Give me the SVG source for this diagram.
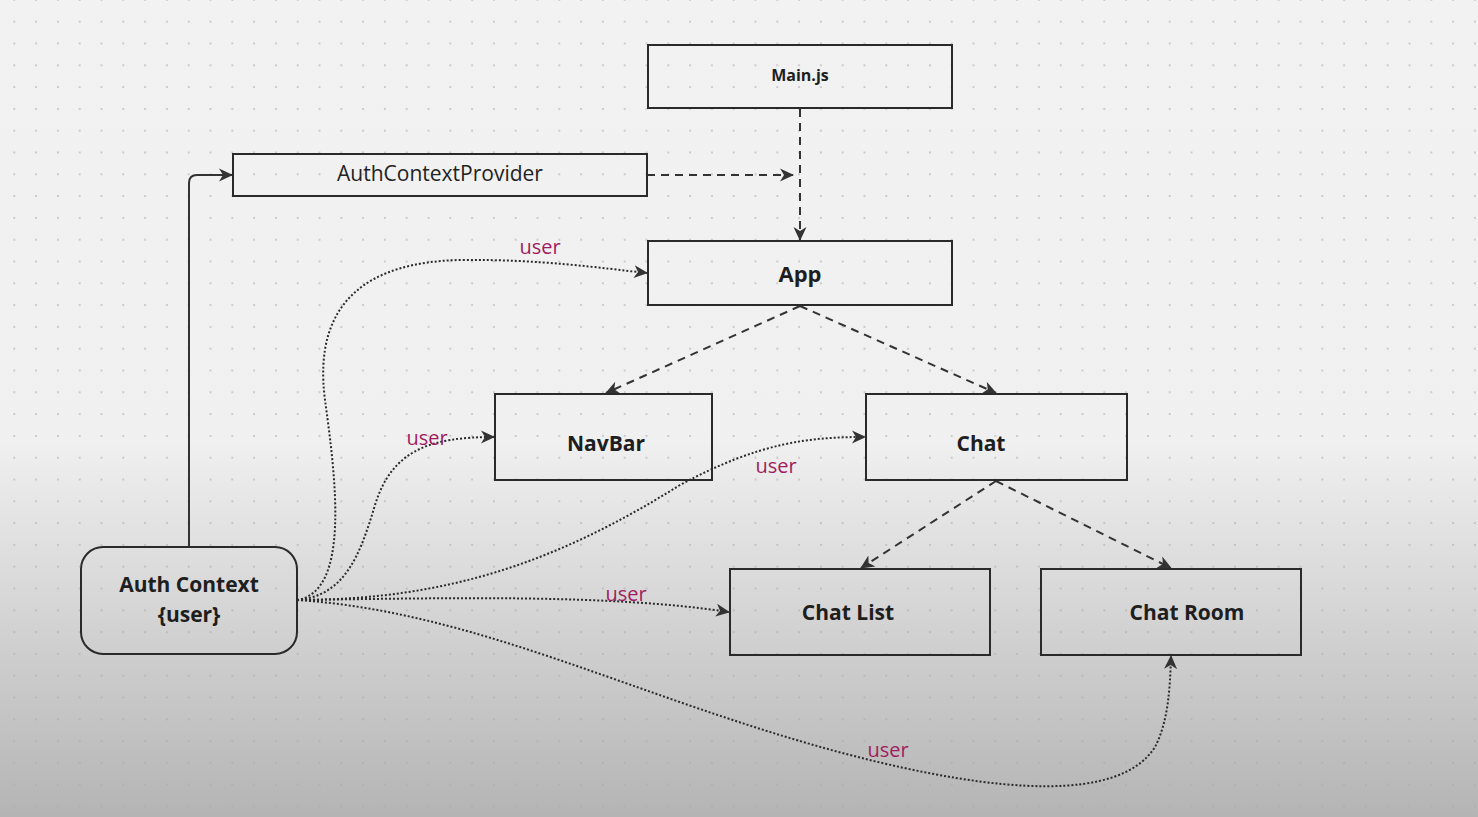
<svg xmlns="http://www.w3.org/2000/svg" width="1478" height="817" viewBox="0 0 1478 817">
<defs>
<linearGradient id="bg" x1="0" y1="0" x2="0" y2="1">
<stop offset="0" stop-color="#f2f2f2"/>
<stop offset="0.54" stop-color="#f0f0f0"/>
<stop offset="1" stop-color="#b4b4b4"/>
</linearGradient>
<pattern id="dots" x="3.4" y="10.8" width="21.8" height="21.8" patternUnits="userSpaceOnUse">
<circle cx="10.9" cy="10.9" r="1" fill="#a8a8a8" fill-opacity="0.7"/>
</pattern>
<marker id="ah" viewBox="0 0 14 14" refX="13" refY="7" markerWidth="14" markerHeight="14" markerUnits="userSpaceOnUse" orient="auto">
<path d="M0,0.5 L14,7 L0,13.5 L4,7 z" fill="#333"/>
</marker>
<style>
.box{fill:none;stroke:#2a2a2a;stroke-width:2}
.lbl{font-family:"Open Sans","Noto Sans","Liberation Sans",sans-serif;font-weight:bold;fill:#1e1e1e;text-anchor:middle}
.usr{font-family:"Open Sans","Noto Sans","Liberation Sans",sans-serif;font-size:20px;fill:#a01c5e;text-anchor:middle}
.solid{fill:none;stroke:#333;stroke-width:2;marker-end:url(#ah)}
.dash{fill:none;stroke:#333;stroke-width:2;stroke-dasharray:8 6;marker-end:url(#ah)}
.dot{fill:none;stroke:#2a2a2a;stroke-width:2;stroke-dasharray:2 2;marker-end:url(#ah)}
</style>
</defs>
<rect width="1478" height="817" fill="url(#bg)"/>
<rect width="1478" height="817" fill="url(#dots)"/>

<g id="connectors">
<path class="solid" d="M189,547 V183 Q189,175 197,175 H232"/>
<path class="dash" d="M647,175 H793"/>
<path class="dash" d="M800,109 V240"/>
<path class="dash" d="M800,306 L606,393"/>
<path class="dash" d="M800,306 L996,393"/>
<path class="dash" d="M996,481 L861,568"/>
<path class="dash" d="M996,481 L1171,568"/>
<path class="dot" d="M297,600 C350,592 336,480 325,400 C312,300 370,262 460,260 C540,259 600,268 647,273"/>
<path class="dot" d="M297,600 C345,596 360,555 375,505 C392,450 430,437 494,437"/>
<path class="dot" d="M297,600 C450,600 560,560 680,485 C760,442 810,437 865,437"/>
<path class="dot" d="M297,600 C450,598 610,594 729,612"/>
<path class="dot" d="M297,600 C480,612 640,700 850,755 C1000,794 1120,802 1155,747 C1168,722 1170,690 1171,656"/>
</g>

<g id="main">
<rect class="box" x="648" y="45" width="304" height="63"/>
<text class="lbl" x="800" y="81" font-size="16">Main.js</text>
</g>
<g id="authprovider">
<rect class="box" x="233" y="154" width="414" height="42"/>
<text x="440" y="181" font-size="21" fill="#222" text-anchor="middle" font-family="Open Sans, Noto Sans, Liberation Sans, sans-serif">AuthContextProvider</text>
</g>
<g id="app">
<rect class="box" x="648" y="241" width="304" height="64"/>
<text class="lbl" x="800" y="282" font-size="22">App</text>
</g>
<g id="navbar">
<rect class="box" x="495" y="394" width="217" height="86"/>
<text class="lbl" x="606" y="451" font-size="21">NavBar</text>
</g>
<g id="chat">
<rect class="box" x="866" y="394" width="261" height="86"/>
<text class="lbl" x="981" y="451" font-size="21">Chat</text>
</g>
<g id="chatlist">
<rect class="box" x="730" y="569" width="260" height="86"/>
<text class="lbl" x="848" y="620" font-size="21">Chat List</text>
</g>
<g id="chatroom">
<rect class="box" x="1041" y="569" width="260" height="86"/>
<text class="lbl" x="1187" y="620" font-size="21">Chat Room</text>
</g>
<g id="authcontext">
<rect class="box" x="81" y="547" width="216" height="107" rx="22"/>
<text class="lbl" x="189" y="592" font-size="21">Auth Context</text>
<text class="lbl" x="189" y="622" font-size="21">{user}</text>
</g>

<g id="labels">
<text class="usr" x="540" y="254">user</text>
<text class="usr" x="427" y="445">user</text>
<text class="usr" x="776" y="473">user</text>
<text class="usr" x="626" y="601">user</text>
<text class="usr" x="888" y="757">user</text>
</g>
</svg>
